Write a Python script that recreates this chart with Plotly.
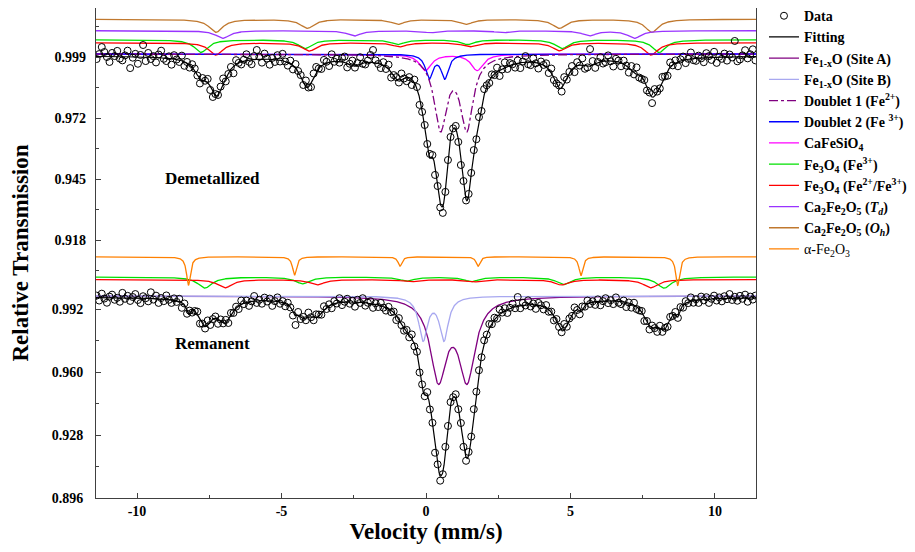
import numpy as np
import plotly.graph_objects as go

FONT = "Times New Roman, Liberation Serif, serif"

# ---------------- measured spectra (relative transmission) ----------------
velocity = np.linspace(-11.4, 11.4, 256)   # channel velocities, mm/s

demetallized = [
 .9981,1.0003,1.0034,1.0012,.9990,.9968,1.0008,.9994,1.0017,.9983,.9975,.9997,1.0018,.9941,.9987,1.0004,
 .9960,.9999,1.0043,.9972,1.0008,.9981,.9994,.9966,1.0001,1.0018,.9982,.9972,.9993,.9956,.9998,.9979,
 .9968,.9996,.9951,.9968,.9943,.9958,.9939,.9908,.9873,.9897,.9885,.9893,.9844,.9813,.9826,.9822,
 .9859,.9895,.9882,.9915,.9946,.9918,.9976,.9964,.9957,.9978,1.0002,.9969,.9958,.9994,1.0021,.9991,
 .9965,1.0005,.9983,.9956,.9986,.9968,.9998,.9970,1.0004,.9970,.9952,.9974,.9935,.9959,.9928,.9910,
 .9866,.9886,.9855,.9857,.9917,.9946,.9939,.9937,.9977,.9969,.9950,1.0002,.9969,.9982,.9965,.9986,
 .9992,.9944,.9960,.9974,.9943,.9963,.9989,.9960,.9957,.9974,.9999,1.0021,.9975,.9959,.9941,.9967,
 .9937,.9956,.9899,.9910,.9901,.9877,.9917,.9895,.9883,.9901,.9866,.9890,.9857,.9778,.9747,.9689,
 .9605,.9561,.9556,.9468,.9419,.9324,.9300,.9393,.9534,.9636,.9674,.9685,.9614,.9512,.9441,.9355,
 .9384,.9477,.9578,.9626,.9724,.9751,.9848,.9865,.9875,.9913,.9910,.9943,.9906,.9935,.9966,.9937,
 .9963,.9958,.9943,.9975,.9941,.9970,.9994,.9958,.9954,.9984,.9962,.9939,.9970,.9955,.9962,.9919,
 .9939,.9888,.9873,.9864,.9837,.9901,.9890,.9924,.9950,.9923,.9967,.9952,.9984,.9938,.9944,1.0025,
 .9972,.9942,.9968,.9989,.9961,.9967,.9997,.9971,.9948,.9982,.9974,.9949,.9974,.9952,.9921,.9950,
 .9913,.9944,.9899,.9893,.9888,.9842,.9833,.9786,.9848,.9837,.9851,.9902,.9904,.9907,.9966,.9953,
 .9975,.9949,.9980,.9992,.9963,.9982,1.0010,.9976,.9973,.9996,.9984,.9967,1.0007,.9994,.9977,1.0013,
 .9964,.9991,.9982,1.0005,.9974,1.0001,.9988,1.0061,.9971,.9979,.9997,1.0020,.9984,1.0002,1.0024,.9975]

remanent = [
 .9988,.9963,.9998,.9973,.9952,.9983,.9993,.9967,.9977,.9957,1.0002,.9972,.9987,.9961,.9981,.9996,
 .9966,.9950,.9985,.9975,.9959,1.0005,.9968,.9988,.9951,.9976,.9960,.9989,.9967,.9951,.9974,.9956,
 .9972,.9926,.9948,.9896,.9912,.9902,.9910,.9907,.9846,.9846,.9821,.9862,.9839,.9869,.9882,.9845,
 .9867,.9847,.9865,.9849,.9900,.9900,.9932,.9920,.9963,.9945,.9963,.9936,.9959,.9986,.9951,.9967,
 .9947,.9978,.9958,.9973,.9936,.9960,.9979,.9947,.9960,.9934,.9952,.9928,.9887,.9839,.9905,.9869,
 .9880,.9863,.9902,.9878,.9863,.9893,.9892,.9891,.9934,.9920,.9944,.9924,.9960,.9948,.9975,.9940,
 .9957,.9972,.9947,.9962,.9932,.9967,.9951,.9975,.9937,.9952,.9960,.9926,.9949,.9930,.9951,.9927,
 .9912,.9931,.9904,.9907,.9864,.9874,.9838,.9810,.9814,.9776,.9791,.9730,.9703,.9598,.9537,.9477,
 .9498,.9410,.9342,.9190,.9131,.9048,.9081,.9220,.9326,.9447,.9472,.9487,.9411,.9341,.9220,.9149,
 .9194,.9272,.9411,.9500,.9609,.9675,.9761,.9790,.9844,.9843,.9876,.9871,.9918,.9902,.9924,.9900,
 .9926,.9947,.9924,.9981,.9924,.9952,.9938,.9964,.9933,.9948,.9921,.9951,.9939,.9918,.9940,.9906,
 .9907,.9862,.9869,.9829,.9802,.9844,.9830,.9872,.9885,.9928,.9915,.9893,.9933,.9932,.9963,.9946,
 .9959,.9941,.9969,.9939,.9960,.9975,.9950,.9965,.9945,.9979,.9952,.9945,.9963,.9930,.9953,.9927,
 .9952,.9920,.9913,.9910,.9859,.9859,.9816,.9836,.9823,.9804,.9835,.9804,.9824,.9830,.9880,.9885,
 .9905,.9875,.9930,.9927,.9960,.9950,.9979,.9952,.9970,.9951,.9983,.9964,.9980,.9951,.9972,.9988,
 .9963,.9979,.9959,.9985,.9970,.9996,.9966,.9982,.9962,.9987,.9972,.9993,.9957,.9983,.9968,.9988]

# ---------------- sub-spectra: line positions (mm/s), depths, half widths ----------------
# Demetallized
oh_pos  = [-7.27, -4.11, -0.98, 1.38, 4.61, 7.82]
oh_dep  = [0.00575, 0.00398, 0.00221, 0.00221, 0.00398, 0.00575]
td_pos  = [-7.04, -2.49, 0.15, 2.65, 5.65, 7.21]
td_dep  = [0.00341, 0.00235, 0.00089, 0.00089, 0.00221, 0.00332]
mg3d_pos = [-7.79, -4.18, -0.98, 1.44, 4.71, 8.07]
mg3d_dep = [0.00562, 0.00385, 0.00208, 0.00208, 0.00385, 0.00562]
mg23d_pos = [-7.27, -4.04, -0.92, 1.50, 4.61, 7.79]
mg23d_dep = [0.00544, 0.00367, 0.00177, 0.00177, 0.00354, 0.00544]
cfs_pos = [-0.02, 1.77];  cfs_dep = [0.00726, 0.00726]
dbl2_pos = [0.11, 0.65];  dbl2_dep = [0.01045, 0.01045]
dbl1_pos = [0.50, 1.41];  dbl1_dep = [0.03209, 0.03209]
# Remanent
hem_pos = [-8.22, -4.55, -0.90, 1.80, 5.36, 8.71]
hem_dep = [0.01448, 0.00940, 0.00478, 0.00478, 0.00965, 0.01453]
mg3r_pos = [-7.65, -4.27, -0.67, 1.57, 4.76, 8.24]
mg3r_dep = [0.00559, 0.00340, 0.00203, 0.00229, 0.00381, 0.00559]
mg23r_pos = [-6.96, -3.78, -0.55, 1.66, 4.69, 7.77]
mg23r_dep = [0.00422, 0.00274, 0.00117, 0.00117, 0.00274, 0.00422]
feoA_pos = [0.43, 1.42];  feoA_dep = [0.04064, 0.04064]
feoB_pos = [-0.10, 0.62]; feoB_dep = [0.02184, 0.02184]

# display baselines of the offset sub-spectra
base_top = dict(oh=1.0157, td=1.01064, mg3=1.00666, mg23=1.00533, dbl=1.00033, fit=0.99944)
base_bot = dict(hem=1.01853, mg3=1.00827, mg23=1.0070, feo=0.99862, fit=0.99811)

vm = np.linspace(-11.42, 11.42, 2400)

def absorption(pos, dep, hw):
    out = np.zeros_like(vm)
    for p, d in zip(pos, dep):
        out += d / (1.0 + ((vm - p) / hw) ** 2)
    return out

oh = absorption(oh_pos, oh_dep, 0.28)
td = absorption(td_pos, td_dep, 0.28)
mg3d = absorption(mg3d_pos, mg3d_dep, 0.28)
mg23d = absorption(mg23d_pos, mg23d_dep, 0.28)
cfs = absorption(cfs_pos, cfs_dep, 0.25)
dbl2 = absorption(dbl2_pos, dbl2_dep, 0.15)
dbl1 = absorption(dbl1_pos, dbl1_dep, 0.265)
fit_top = base_top['fit'] - 1.2 * (oh + td + mg3d + mg23d) - 1.5 * (cfs + dbl2 + dbl1)

hem = absorption(hem_pos, hem_dep, 0.08)
mg3r = absorption(mg3r_pos, mg3r_dep, 0.30)
mg23r = absorption(mg23r_pos, mg23r_dep, 0.30)
feoA = absorption(feoA_pos, feoA_dep, 0.34)
feoB = absorption(feoB_pos, feoB_dep, 0.18)
fit_bot = base_bot['fit'] - 1.65 * feoA - 1.0 * feoB - 2.3 * mg3r - 2.6 * mg23r - 0.35 * hem

C = dict(feoA='#800080', feoB='#a8a8f0', dbl1='#800080', dbl2='#0000ff', cfs='#ff00ff',
         mg3='#00e000', mg23='#ff0000', td='#9933ff', oh='#c0782e', hem='#ff8000')

fig = go.Figure()
LW = 1.3

def comp(y, yaxis, name, color, rank, group, show=True, dash='solid'):
    fig.add_trace(go.Scatter(x=vm, y=y, yaxis=yaxis, mode='lines', name=name,
                             line=dict(color=color, width=LW, dash=dash),
                             legendrank=rank, legendgroup=group, showlegend=show,
                             hoverinfo='skip'))

# remanent components (y)
comp(base_bot['feo'] - feoA, 'y', '<b>Fe<sub>1-x</sub>O (Site A)</b>', C['feoA'], 3, 'g3')
comp(base_bot['feo'] - feoB, 'y', '<b>Fe<sub>1-x</sub>O (Site B)</b>', C['feoB'], 4, 'g4')
comp(base_bot['mg3'] - mg3r, 'y', '<b>Fe<sub>3</sub>O<sub>4</sub> (Fe<sup>3+</sup>)</b>', C['mg3'], 8, 'g8', show=False)
comp(base_bot['mg23'] - mg23r, 'y', '<b>Fe<sub>3</sub>O<sub>4</sub> (Fe<sup>2+</sup>/Fe<sup>3+</sup>)</b>', C['mg23'], 9, 'g9', show=False)
comp(base_bot['hem'] - hem, 'y', 'α-Fe<sub>2</sub>O<sub>3</sub>', C['hem'], 12, 'g12')

# demetallized components (y2)
comp(base_top['oh'] - oh, 'y2', '<b>Ca<sub>2</sub>Fe<sub>2</sub>O<sub>5</sub> (<i>O<sub>h</sub></i>)</b>', C['oh'], 11, 'g11')
comp(base_top['td'] - td, 'y2', '<b>Ca<sub>2</sub>Fe<sub>2</sub>O<sub>5</sub> (<i>T<sub>d</sub></i>)</b>', C['td'], 10, 'g10')
comp(base_top['mg3'] - mg3d, 'y2', '<b>Fe<sub>3</sub>O<sub>4</sub> (Fe<sup>3+</sup>)</b>', C['mg3'], 8, 'g8')
comp(base_top['mg23'] - mg23d, 'y2', '<b>Fe<sub>3</sub>O<sub>4</sub> (Fe<sup>2+</sup>/Fe<sup>3+</sup>)</b>', C['mg23'], 9, 'g9')
comp(base_top['dbl'] - cfs, 'y2', '<b>CaFeSiO<sub>4</sub></b>', C['cfs'], 7, 'g7')
comp(base_top['dbl'] - dbl2, 'y2', '<b>Doublet 2 (Fe <sup>3+</sup>)</b>', C['dbl2'], 6, 'g6')
comp(base_top['dbl'] - dbl1, 'y2', '<b>Doublet 1 (Fe<sup>2+</sup>)</b>', C['dbl1'], 5, 'g5', dash='dashdot')

# data
for y, ax, show in [(demetallized, 'y2', True), (remanent, 'y', False)]:
    fig.add_trace(go.Scatter(x=velocity, y=y, yaxis=ax, mode='markers', name='<b>Data</b>',
                             marker=dict(symbol='circle-open', size=7, color='black',
                                         line=dict(width=1, color='black')),
                             legendrank=1, legendgroup='g1', showlegend=show, hoverinfo='skip'))
# fits
for y, ax, show in [(fit_top, 'y2', True), (fit_bot, 'y', False)]:
    fig.add_trace(go.Scatter(x=vm, y=y, yaxis=ax, mode='lines', name='<b>Fitting</b>',
                             line=dict(color='black', width=1.2),
                             legendrank=2, legendgroup='g2', showlegend=show, hoverinfo='skip'))

AX = '#404040'
tickfont = dict(family=FONT, size=14, color='black')

fig.update_layout(
    width=915, height=552,
    margin=dict(l=88, r=167, t=0, b=62, autoexpand=False),
    plot_bgcolor='white', paper_bgcolor='white',
    font=dict(family=FONT, color='black'),
    xaxis=dict(range=[-11.42, 11.42], showline=True, linecolor=AX, linewidth=1, mirror=True,
               ticks='inside', ticklen=5, tickcolor=AX,
               tickvals=[-10, -5, 0, 5, 10], ticktext=['<b>-10</b>', '<b>-5</b>', '<b>0</b>', '<b>5</b>', '<b>10</b>'],
               minor=dict(tickmode='array', tickvals=[-7.5, -2.5, 2.5, 7.5], ticks='inside', ticklen=3, tickcolor=AX),
               tickfont=tickfont, showgrid=False, zeroline=False, automargin=False,
               title=dict(text='<b>Velocity (mm/s)</b>', font=dict(family=FONT, size=23), standoff=4)),
    yaxis=dict(range=[0.896, 1.14492], showline=True, linecolor=AX, linewidth=1, mirror=True,
               ticks='inside', ticklen=5, tickcolor=AX,
               tickvals=[0.896, 0.928, 0.960, 0.992],
               ticktext=['<b>0.896</b>', '<b>0.928</b>', '<b>0.960</b>', '<b>0.992</b>'],
               minor=dict(tickmode='array', tickvals=[0.912, 0.944, 0.976], ticks='inside', ticklen=3, tickcolor=AX),
               tickfont=tickfont, ticklabelstandoff=9, showgrid=False, zeroline=False, automargin=False,
               title=dict(text='<b>Relative Transmission</b>', font=dict(family=FONT, size=23), standoff=16)),
    yaxis2=dict(range=[0.80381, 1.02069], overlaying='y', side='left', showline=False,
                ticks='inside', ticklen=5, tickcolor=AX,
                tickvals=[0.918, 0.945, 0.972, 0.999],
                ticktext=['<b>0.918</b>', '<b>0.945</b>', '<b>0.972</b>', '<b>0.999</b>'],
                minor=dict(tickmode='array', tickvals=[0.9045, 0.9315, 0.9585, 0.9855, 1.0125],
                           ticks='inside', ticklen=3, tickcolor=AX),
                tickfont=tickfont, ticklabelstandoff=9, showgrid=False, zeroline=False, automargin=False),
    legend=dict(x=1.0121, y=1.016, xanchor='left', yanchor='top', bgcolor='rgba(0,0,0,0)',
                font=dict(family=FONT, size=14, color='black'), tracegroupgap=0, itemwidth=30),
    annotations=[
        dict(x=-7.39, y=0.6755, xref='x', yref='paper', text='<b>Demetallized</b>', showarrow=False,
             font=dict(family=FONT, size=17, color='black')),
        dict(x=-7.4, y=0.2918, xref='x', yref='paper', text='<b>Remanent</b>', showarrow=False,
             font=dict(family=FONT, size=17, color='black')),
    ],
)

fig.write_html("out.html")
